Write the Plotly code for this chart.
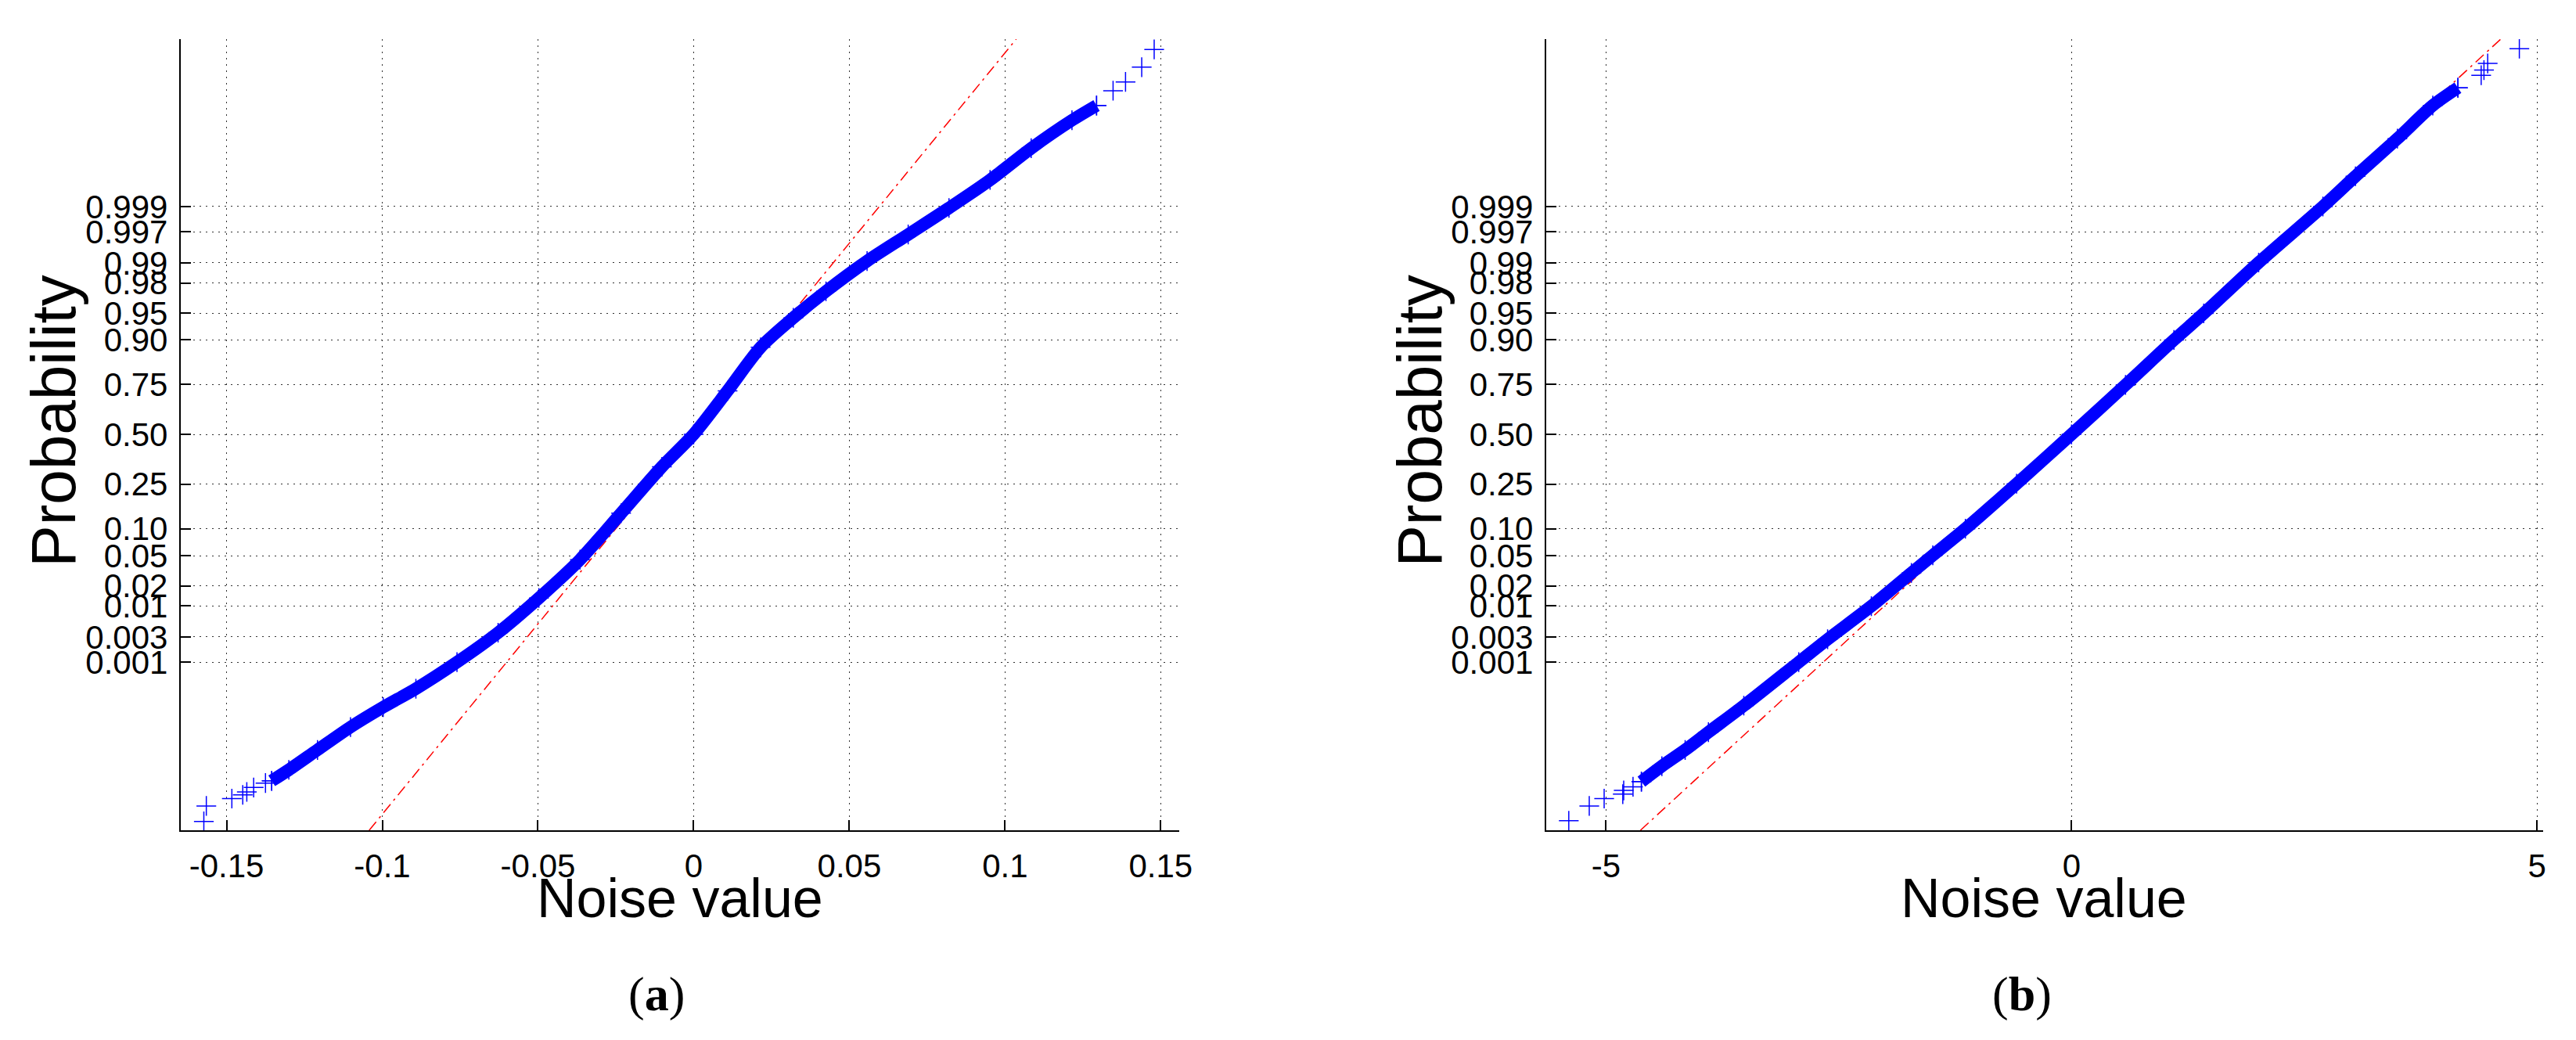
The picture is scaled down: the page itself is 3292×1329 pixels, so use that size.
import plotly.graph_objects as go
from statistics import NormalDist

# ---------------- data ----------------
# probability tick labels (normal-probability scale)
prob_ticks = [0.001, 0.003, 0.01, 0.02, 0.05, 0.10, 0.25, 0.50, 0.75, 0.90, 0.95, 0.98, 0.99, 0.997, 0.999]
prob_labels = ["0.001", "0.003", "0.01", "0.02", "0.05", "0.10", "0.25", "0.50",
               "0.75", "0.90", "0.95", "0.98", "0.99", "0.997", "0.999"]

# panel (a): sorted noise values vs. normal quantile (z)
a_body_z = [-4.70, -4.55, -4.28, -3.97, -3.70, -3.45, -3.09, -2.69, -2.22, -1.70, -1.07, -0.44, 0.0,
            0.59, 1.18, 1.58, 1.94, 2.35, 2.71, 3.07, 3.45, 3.88, 4.26, 4.46]
a_body_x = [-0.1355, -0.1300, -0.1208, -0.1102, -0.0997, -0.0892, -0.0760, -0.0628, -0.0497, -0.0365,
            -0.0233, -0.0102, 0.0, 0.0109, 0.0215, 0.0320, 0.0425, 0.0557, 0.0689, 0.0820, 0.0952,
            0.1084, 0.1215, 0.1294]
a_tail_z = [-5.25, -5.04, -4.94, -4.89, -4.85, -4.79, -4.73, -4.70, 4.46, 4.66, 4.78, 4.98, 5.22]
a_tail_x = [-0.1573, -0.1565, -0.1483, -0.1448, -0.1435, -0.1413, -0.1375, -0.1355,
            0.1294, 0.1347, 0.1387, 0.1439, 0.1479]
a_ref_z = [-5.37, 5.36]
a_ref_x = [-0.1042, 0.1036]

# panel (b)
b_body_z = [-4.71, -4.50, -4.28, -4.04, -3.68, -3.09, -2.78, -2.33, -1.88, -1.64, -1.28, -0.67, 0.0,
            0.67, 1.28, 1.64, 2.33, 3.09, 3.50, 4.01, 4.46, 4.70]
b_body_x = [-4.62, -4.40, -4.15, -3.90, -3.52, -2.93, -2.62, -2.15, -1.72, -1.49, -1.14, -0.59, 0.0,
            0.58, 1.10, 1.42, 2.01, 2.70, 3.05, 3.50, 3.88, 4.15]
b_tail_z = [-5.24, -5.04, -4.94, -4.88, -4.83, -4.78, -4.71, 4.70, 4.87, 4.94, 5.03, 5.23]
b_tail_x = [-5.40, -5.18, -5.02, -4.82, -4.81, -4.71, -4.62, 4.15, 4.40, 4.43, 4.47, 4.81]
b_ref_z = [-5.37, 5.36]
b_ref_x = [-4.63, 4.61]

a_xticks = [-0.15, -0.1, -0.05, 0, 0.05, 0.1, 0.15]
a_xlabels = ["-0.15", "-0.1", "-0.05", "0", "0.05", "0.1", "0.15"]
b_xticks = [-5, 0, 5]
b_xlabels = ["-5", "0", "5"]

# ---------------- figure ----------------
W, H = 3292, 1329
nd = NormalDist()
prob_z = [nd.inv_cdf(p) for p in prob_ticks]

BLUE = "#0000ff"
fig = go.Figure()


def add_panel(xa, ya, body_x, body_z, tail_x, tail_z, ref_x, ref_z):
    fig.add_trace(go.Scatter(x=ref_x, y=ref_z, mode="lines", xaxis=xa, yaxis=ya,
                             line=dict(color="#ff0000", width=1.5, dash="14px,6px,3px,6px"),
                             showlegend=False, hoverinfo="skip"))
    fig.add_trace(go.Scatter(x=body_x, y=body_z, mode="lines+markers", xaxis=xa, yaxis=ya,
                             line=dict(color=BLUE, width=16, shape="spline", smoothing=0.8),
                             marker=dict(symbol="cross-thin", size=18, line=dict(color=BLUE, width=1.5)),
                             showlegend=False, hoverinfo="skip"))
    fig.add_trace(go.Scatter(x=tail_x, y=tail_z, mode="markers", xaxis=xa, yaxis=ya,
                             marker=dict(symbol="cross-thin", size=18, line=dict(color=BLUE, width=1.5)),
                             showlegend=False, hoverinfo="skip"))


add_panel("x", "y", a_body_x, a_body_z, a_tail_x, a_tail_z, a_ref_x, a_ref_z)
add_panel("x2", "y2", b_body_x, b_body_z, b_tail_x, b_tail_z, b_ref_x, b_ref_z)

FONT = "Liberation Sans, Arial, sans-serif"
axis_common = dict(showline=True, linecolor="black", linewidth=2, mirror=False,
                   ticks="inside", ticklen=13, tickwidth=1.5, tickcolor="black",
                   showgrid=True, gridcolor="#333333", gridwidth=1, griddash="2px,6px",
                   zeroline=False, tickfont=dict(family=FONT, size=42, color="black"))

ydom = [(H - 1053) / H, (H - 42) / H]
fig.update_layout(
    width=W, height=H, margin=dict(l=0, r=0, t=0, b=0),
    paper_bgcolor="white", plot_bgcolor="white",
    xaxis=dict(domain=[224 / W, 1507 / W], range=[-0.16475, 0.156], tickvals=a_xticks,
               ticktext=a_xlabels, anchor="y", ticklabelstandoff=8, **axis_common),
    yaxis=dict(domain=ydom, range=[-5.37, 5.36], tickvals=prob_z, ticktext=prob_labels,
               anchor="x", ticklabelstandoff=6, **axis_common),
    xaxis2=dict(domain=[1978 / W, 3259 / W], range=[-5.644, 5.067], tickvals=b_xticks,
                ticktext=b_xlabels, anchor="y2", ticklabelstandoff=8, **axis_common),
    yaxis2=dict(domain=ydom, range=[-5.37, 5.36], tickvals=prob_z, ticktext=prob_labels,
                anchor="x2", ticklabelstandoff=6, **axis_common),
)

for xc in [865 / W, 2618 / W]:
    fig.add_annotation(text="Noise value", x=xc, y=(H - 1140) / H, xref="paper", yref="paper",
                       showarrow=False, font=dict(family=FONT, size=70, color="black"),
                       xanchor="center", yanchor="middle")
for xc in [61 / W, 1816 / W]:
    fig.add_annotation(text="Probability", x=xc, y=(H - 530) / H, xref="paper", yref="paper",
                       showarrow=False, font=dict(family=FONT, size=80, color="black"),
                       textangle=-90, xanchor="center", yanchor="middle")
for xc, lab in [(835 / W, "(<b>a</b>)"), (2589 / W, "(<b>b</b>)")]:
    fig.add_annotation(text=lab, x=xc, y=(H - 1262) / H, xref="paper", yref="paper", showarrow=False,
                       font=dict(family="Liberation Serif, serif", size=62, color="black"),
                       xanchor="center", yanchor="middle")

fig.write_html("out.html")
